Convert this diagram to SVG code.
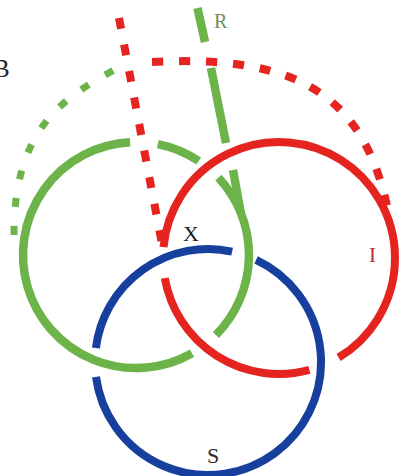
<svg xmlns="http://www.w3.org/2000/svg" width="399" height="476" viewBox="0 0 399 476">
<style>
.g{fill:none;stroke:#6cb44a;stroke-width:8.5}
.r{fill:none;stroke:#e52420;stroke-width:8}
.b{fill:none;stroke:#173f9e;stroke-width:8}
.gd{fill:none;stroke:#6cb44a;stroke-width:7;stroke-dasharray:9 19}
.rd{fill:none;stroke:#e52420;stroke-width:8;stroke-dasharray:11 16}
text{font-family:"Liberation Serif","Times New Roman",serif}
</style>
<rect width="399" height="476" fill="#ffffff"/>
<g id="connectors">
<path class="gd" d="M14,235 C14,135 55.9,100.3 118,68"/>
<path class="rd" d="M152,62 C305,54 366,100 389,215"/>
<path class="rd" d="M119,18 L162,244"/>
</g>
<g id="ring-green">
<path class="g" d="M157.8,144.1 A113,113 0 0 1 198.7,161"/>
<path class="g" d="M218.4,177.7 A113,113 0 0 1 215.9,334.9"/>
<path class="g" d="M192,353.2 A113,113 0 1 1 130.1,142.2"/>
<path class="g" d="M197.5,8 L205,42 M211,68 L226,143 M233,170 L241,214"/>
<text x="214" y="28" font-size="20" fill="#6f8f62">R</text>
</g>
<g id="ring-red">
<path class="r" d="M309.4,369.9 A116,116 0 0 1 164.8,278.1"/>
<path class="r" d="M163.5,247.1 A116,116 0 1 1 338.6,357.5"/>
<text x="369" y="262" font-size="21" fill="#b2302c">I</text>
</g>
<g id="ring-blue">
<path class="b" d="M95.9,348 A113,113 0 0 1 232.1,251.6"/>
<path class="b" d="M256.1,259.8 A113,113 0 1 1 96,376.9"/>
<text x="207" y="463" font-size="22" fill="#2a2a2a">S</text>
</g>
<g id="labels">
<text x="183" y="241" font-size="22" fill="#222222">X</text>
<text x="-7" y="77" font-size="25" fill="#222222">B</text>
</g>
</svg>
